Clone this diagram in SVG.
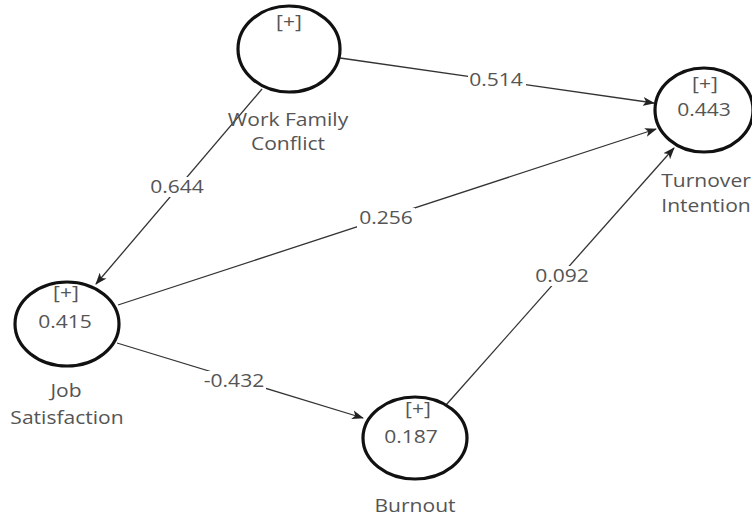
<svg xmlns="http://www.w3.org/2000/svg" width="752" height="521" viewBox="0 0 752 521">
<defs>
<marker id="arr" markerWidth="12" markerHeight="10" refX="11" refY="5" orient="auto" markerUnits="userSpaceOnUse">
<path d="M0,0.5 L12,5 L0,9.5 L3,5 Z" fill="#222"/>
</marker>
</defs>
<style>
.n{fill:#fff;stroke:#111;stroke-width:3.2}
.t{font-family:"Open Sans","Noto Sans","DejaVu Sans",sans-serif;font-size:18px;fill:#555;text-anchor:middle}
.e{stroke:#333;stroke-width:1.3;fill:none}
.lb{fill:#fff}
</style>
<rect width="752" height="521" fill="#fff"/>
<g id="connectors">
<line class="e" x1="340" y1="58" x2="654" y2="103" marker-end="url(#arr)"/>
<line class="e" x1="262" y1="89" x2="96" y2="284" marker-end="url(#arr)"/>
<line class="e" x1="118" y1="305" x2="656" y2="129" marker-end="url(#arr)"/>
<line class="e" x1="117" y1="343" x2="363" y2="418" marker-end="url(#arr)"/>
<line class="e" x1="446" y1="405" x2="674" y2="148" marker-end="url(#arr)"/>
<rect class="lb" x="468" y="70" width="58" height="20"/>
<text class="t" transform="translate(496 86) scale(1.17 1)">0.514</text>
<rect class="lb" x="148" y="177" width="58" height="20"/>
<text class="t" transform="translate(177 193) scale(1.17 1)">0.644</text>
<rect class="lb" x="357" y="208" width="58" height="20"/>
<text class="t" transform="translate(386 224) scale(1.17 1)">0.256</text>
<rect class="lb" x="202" y="371" width="64" height="20"/>
<text class="t" transform="translate(234 387) scale(1.17 1)">-0.432</text>
<rect class="lb" x="533" y="266" width="58" height="20"/>
<text class="t" transform="translate(562 282) scale(1.17 1)">0.092</text>
</g>
<g id="work-family-conflict">
<ellipse class="n" cx="289" cy="49" rx="51" ry="43"/>
<text class="t" transform="translate(289 28) scale(1.17 1)">[+]</text>
<text class="t" transform="translate(288 126) scale(1.17 1)">Work Family</text>
<text class="t" transform="translate(288 150) scale(1.17 1)">Conflict</text>
</g>
<g id="turnover-intention">
<ellipse class="n" cx="704" cy="110" rx="49" ry="42"/>
<text class="t" transform="translate(705 90) scale(1.17 1)">[+]</text>
<text class="t" transform="translate(704 116) scale(1.17 1)">0.443</text>
<text class="t" transform="translate(706 187) scale(1.17 1)">Turnover</text>
<text class="t" transform="translate(706 212) scale(1.17 1)">Intention</text>
</g>
<g id="job-satisfaction">
<ellipse class="n" cx="67" cy="324" rx="52" ry="42"/>
<text class="t" transform="translate(66 299) scale(1.17 1)">[+]</text>
<text class="t" transform="translate(65 328) scale(1.17 1)">0.415</text>
<text class="t" transform="translate(66 397) scale(1.17 1)">Job</text>
<text class="t" transform="translate(67 424) scale(1.17 1)">Satisfaction</text>
</g>
<g id="burnout">
<ellipse class="n" cx="415" cy="438" rx="52" ry="41"/>
<text class="t" transform="translate(418 415) scale(1.17 1)">[+]</text>
<text class="t" transform="translate(411 443) scale(1.17 1)">0.187</text>
<text class="t" transform="translate(415 512) scale(1.17 1)">Burnout</text>
</g>
</svg>
